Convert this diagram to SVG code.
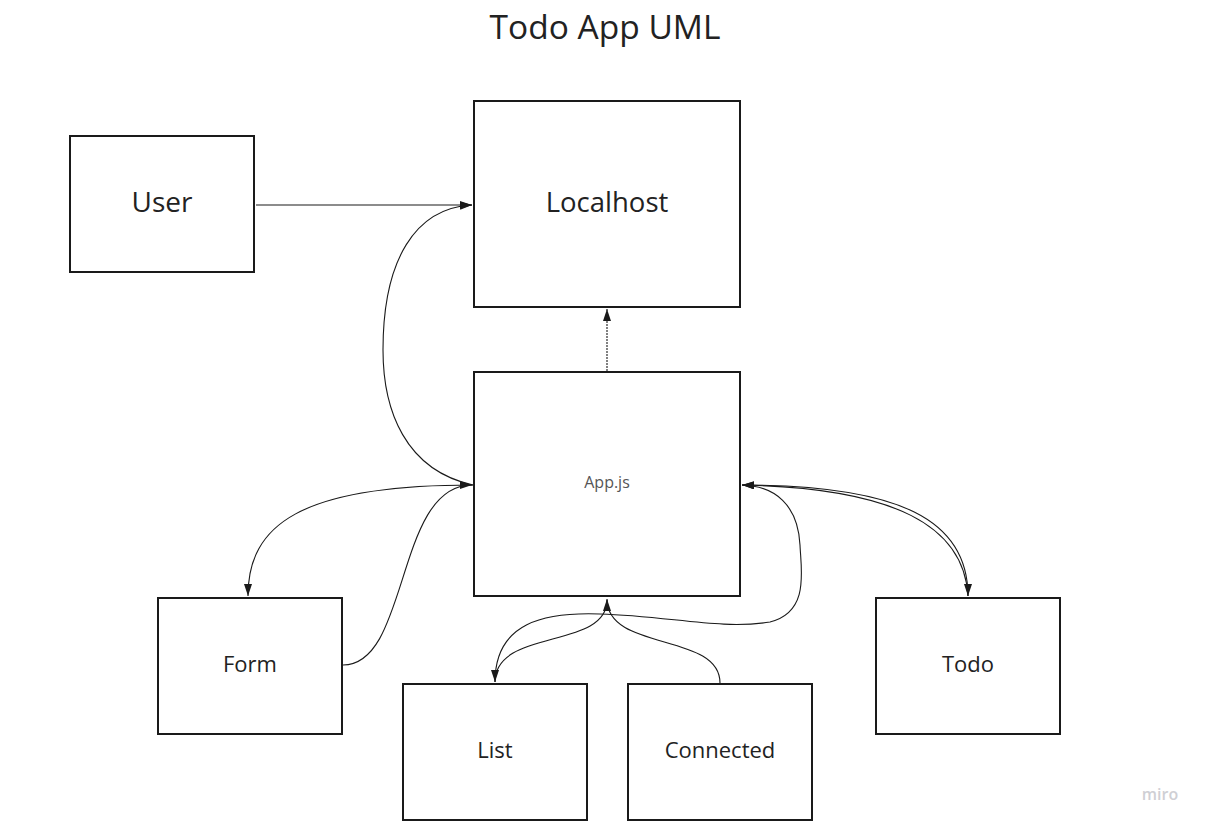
<svg xmlns="http://www.w3.org/2000/svg" width="1207" height="828" viewBox="0 0 1207 828">
<style>
.box{fill:#fff;stroke:#1a1a1a;stroke-width:2}
.t{font-family:"Open Sans","Liberation Sans",sans-serif;fill:#222;text-anchor:middle}
.c{fill:none;stroke:#1a1a1a;stroke-width:1.1}
</style>
<defs>
<marker id="ah" markerUnits="userSpaceOnUse" markerWidth="14" markerHeight="10" refX="12" refY="4" orient="auto">
<path d="M0,0 L12,4 L0,8 z" fill="#1a1a1a"/>
</marker>
</defs>
<rect width="1207" height="828" fill="#fff"/>
<text class="t" x="605" y="39" font-size="33.5">Todo App UML</text>
<g id="connectors">
<path class="c" d="M256,205 L472,205" marker-end="url(#ah)"/>
<path class="c" d="M607,371 L607,309" stroke-dasharray="2,1" marker-end="url(#ah)"/>
<path class="c" d="M473,485 C405,470 383,410 383,350 C383,260 415,208 472,205" marker-end="url(#ah)"/>
<path class="c" d="M473,485 C300,485 248,525 248,596" marker-end="url(#ah)"/>
<path class="c" d="M343,665 C410,665 395,485 472,485" marker-end="url(#ah)"/>
<path class="c" d="M607,600 C607,650 495,628 495,682" marker-end="url(#ah)"/>
<path class="c" d="M720,683 C720,632 607,652 607,599" marker-end="url(#ah)"/>
<path class="c" d="M495,682 C495,622 545,612 600,614 C670,616 720,630 770,622 C810,612 801,570 800,545 C798,505 775,486 742,485" marker-end="url(#ah)"/>
<path class="c" d="M742,485 C900,485 968,520 968,596" marker-end="url(#ah)"/>
<path class="c" d="M968,596 C964,526 895,488 742,485" marker-end="url(#ah)"/>
</g>
<g id="user"><rect class="box" x="70" y="136" width="184" height="136"/><text class="t" x="162" y="212" font-size="28">User</text></g>
<g id="localhost"><rect class="box" x="474" y="101" width="266" height="206"/><text class="t" x="607" y="212" font-size="27.5">Localhost</text></g>
<g id="appjs"><rect class="box" x="474" y="372" width="266" height="224"/><text class="t" x="607" y="488" font-size="16" style="fill:#555">App.js</text></g>
<g id="form"><rect class="box" x="158" y="598" width="184" height="136"/><text class="t" x="250" y="672" font-size="22">Form</text></g>
<g id="list"><rect class="box" x="403" y="684" width="184" height="136"/><text class="t" x="495" y="758" font-size="22">List</text></g>
<g id="connected"><rect class="box" x="628" y="684" width="184" height="136"/><text class="t" x="720" y="758" font-size="22">Connected</text></g>
<g id="todo"><rect class="box" x="876" y="598" width="184" height="136"/><text class="t" x="968" y="672" font-size="22">Todo</text></g>
<text x="1160" y="800" font-family="'Open Sans','Liberation Sans',sans-serif" font-size="16" font-weight="600" fill="#cfcfd4" text-anchor="middle">miro</text>
</svg>
